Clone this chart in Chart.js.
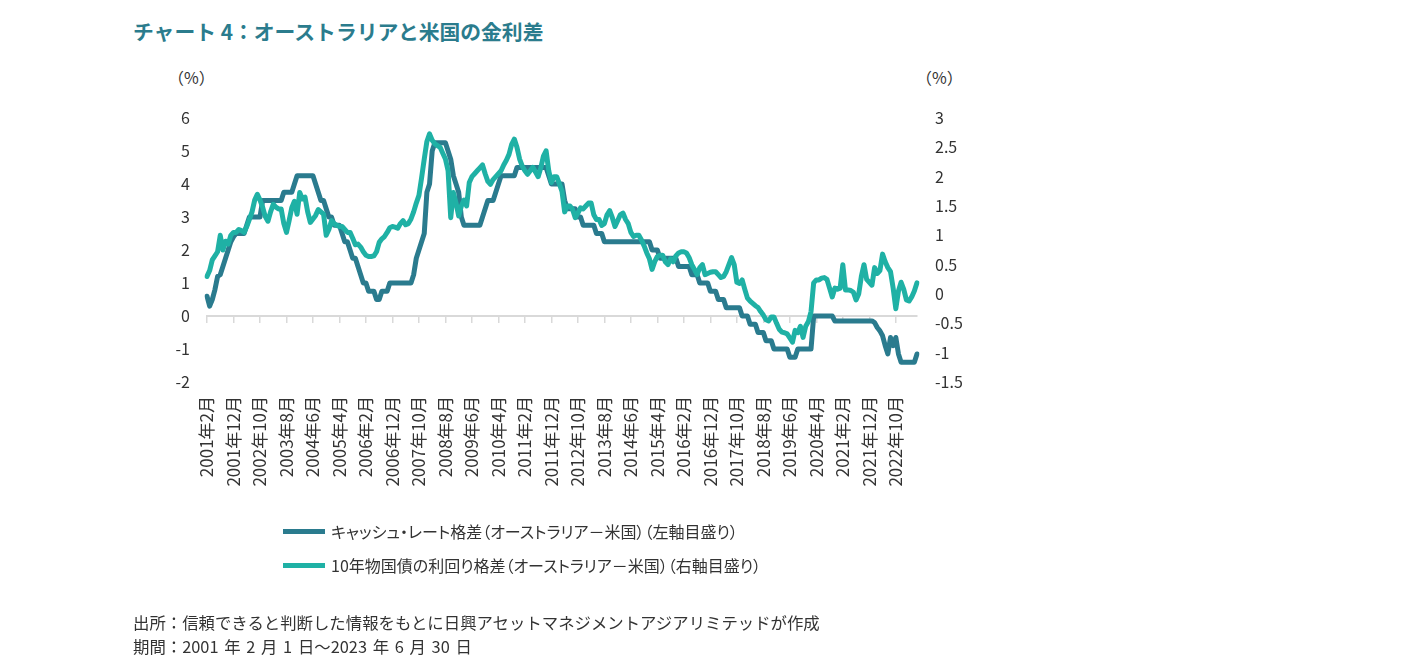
<!DOCTYPE html>
<html lang="ja">
<head>
<meta charset="utf-8">
<script src="https://cdn.jsdelivr.net/npm/chart.js@4.4.0/dist/chart.umd.min.js"></script>
<style>
  html, body { margin: 0; padding: 0; background: #ffffff; }
  body { font-family: "Noto Sans CJK JP", "Noto Sans", sans-serif; color: #333333; }
  #page { position: relative; width: 1402px; height: 672px; overflow: hidden; }
  #chartBox { position: absolute; left: 0; top: 0; width: 1402px; height: 672px; }
  .title { position: absolute; left: 133px; top: 19px; font-size: 20.8px; line-height: 24px; font-weight: bold; color: #2b7c8d; white-space: nowrap; }
  .unit { position: absolute; top: 67px; font-size: 16px; line-height: 20px; color: #333; white-space: nowrap; }
  .legend { position: absolute; left: 283px; font-size: 16px; line-height: 18px; color: #333; white-space: nowrap; display: flex; align-items: center; font-feature-settings: "palt"; }
  .legend .swatch { display: inline-block; width: 42px; height: 5px; margin-right: 6px; }
  .note { position: absolute; left: 133px; font-size: 16.4px; line-height: 20px; color: #333; white-space: nowrap; word-spacing: 2px; }
</style>
</head>
<body>
<div id="page">
  <div class="title">チャート 4：オーストラリアと米国の金利差</div>
  <div class="unit" style="left:168px;">（%）</div>
  <div class="unit" style="left:916px;">（%）</div>
  <div id="chartBox"><canvas id="c"></canvas></div>
  <div class="legend" style="top:522px;"><span class="swatch" style="background:#2a7b8e"></span><span id="lg1"></span></div>
  <div class="legend" style="top:556px;"><span class="swatch" style="background:#1fb1a5"></span><span id="lg2"></span></div>
  <div class="note" style="top:612px;">出所：信頼できると判断した情報をもとに日興アセットマネジメントアジアリミテッドが作成</div>
  <div class="note" style="top:636px;">期間：2001 年 2 月 1 日～2023 年 6 月 30 日</div>
</div>
<script>
// ---- data (monthly, 2001年2月 .. 2023年6月) ----
const startYear = 2001;
const startMonth = 2;

const seriesNames = [
  "キャッシュ・レート格差（オーストラリア－米国）（左軸目盛り）",
  "10年物国債の利回り格差（オーストラリア－米国）（右軸目盛り）"
];

// cash rate spread (left axis, %)
const cashRateSpread = [
  // 2001 Feb-Dec
  0.6, 0.3, 0.5, 0.8, 1.2, 1.25, 1.5, 1.75, 2.0, 2.25, 2.4,
  // 2002
  2.5, 2.5, 2.5, 2.5, 2.75, 3.0, 3.0, 3.0, 3.0, 3.0, 3.5, 3.5,
  // 2003
  3.5, 3.5, 3.5, 3.5, 3.5, 3.5, 3.75, 3.75, 3.75, 3.75, 4.0, 4.25,
  // 2004
  4.25, 4.25, 4.25, 4.25, 4.25, 4.25, 4.0, 3.75, 3.5, 3.5, 3.25, 3.0,
  // 2005
  3.0, 2.75, 2.75, 2.75, 2.5, 2.25, 2.25, 2.0, 1.75, 1.75, 1.5, 1.25,
  // 2006
  1.0, 1.0, 0.75, 0.75, 0.75, 0.5, 0.5, 0.75, 0.75, 0.75, 1.0, 1.0,
  // 2007
  1.0, 1.0, 1.0, 1.0, 1.0, 1.0, 1.0, 1.25, 1.75, 2.0, 2.25, 2.5,
  // 2008
  3.75, 4.0, 5.0, 5.25, 5.25, 5.25, 5.25, 5.25, 5.0, 4.75, 4.25, 4.0,
  // 2009
  3.75, 3.0, 2.75, 2.75, 2.75, 2.75, 2.75, 2.75, 2.75, 3.0, 3.25, 3.5,
  // 2010
  3.5, 3.5, 3.75, 4.0, 4.25, 4.25, 4.25, 4.25, 4.25, 4.25, 4.5, 4.5,
  // 2011
  4.5, 4.5, 4.5, 4.5, 4.5, 4.5, 4.5, 4.5, 4.5, 4.5, 4.25, 4.0,
  // 2012
  4.0, 4.0, 4.0, 4.0, 3.5, 3.25, 3.25, 3.25, 3.25, 3.0, 3.0, 2.75,
  // 2013
  2.75, 2.75, 2.75, 2.75, 2.5, 2.5, 2.5, 2.25, 2.25, 2.25, 2.25, 2.25,
  // 2014
  2.25, 2.25, 2.25, 2.25, 2.25, 2.25, 2.25, 2.25, 2.25, 2.25, 2.25, 2.25,
  // 2015
  2.25, 2.0, 2.0, 2.0, 1.75, 1.75, 1.75, 1.75, 1.75, 1.75, 1.75, 1.5,
  // 2016
  1.5, 1.5, 1.5, 1.5, 1.25, 1.25, 1.25, 1.0, 1.0, 1.0, 1.0, 0.75,
  // 2017
  0.75, 0.75, 0.5, 0.5, 0.5, 0.25, 0.25, 0.25, 0.25, 0.25, 0.25, 0.0,
  // 2018
  0.0, 0.0, -0.25, -0.25, -0.25, -0.5, -0.5, -0.5, -0.75, -0.75, -0.75, -1.0,
  // 2019
  -1.0, -1.0, -1.0, -1.0, -1.0, -1.25, -1.25, -1.25, -1.0, -1.0, -1.0, -1.0,
  // 2020
  -1.0, -1.0, 0.0, 0.0, 0.0, 0.0, 0.0, 0.0, 0.0, 0.0, -0.15, -0.15,
  // 2021
  -0.15, -0.15, -0.15, -0.15, -0.15, -0.15, -0.15, -0.15, -0.15, -0.15, -0.15, -0.15,
  // 2022
  -0.15, -0.2, -0.35, -0.45, -0.6, -0.9, -1.15, -0.65, -0.9, -0.65, -1.15, -1.4,
  // 2023 Jan-Jun
  -1.4, -1.4, -1.4, -1.4, -1.4, -1.15
];

// 10-year government bond yield spread (right axis, %)
const bondYieldSpread = [
  // 2001 Feb-Dec
  0.3, 0.4, 0.58, 0.65, 0.72, 1.0, 0.75, 0.9, 0.85, 1.0, 1.05,
  // 2002
  1.05, 1.1, 1.08, 1.05, 1.15, 1.27, 1.4, 1.6, 1.7, 1.6, 1.48, 1.32,
  // 2003
  1.24, 1.4, 1.53, 1.48, 1.45, 1.45, 1.2, 1.05, 1.25, 1.47, 1.58, 1.36,
  // 2004
  1.73, 1.62, 1.65, 1.4, 1.22, 1.28, 1.34, 1.44, 1.4, 1.36, 1.0, 1.1,
  // 2005
  1.25, 1.2, 1.17, 1.15, 1.15, 1.1, 1.05, 1.05, 0.95, 0.84, 0.85, 0.8,
  // 2006
  0.72, 0.66, 0.64, 0.64, 0.65, 0.72, 0.88, 0.94, 0.98, 1.05, 1.13, 1.15,
  // 2007
  1.14, 1.12, 1.2, 1.25, 1.18, 1.2, 1.28, 1.4, 1.55, 1.68, 1.98, 2.3,
  // 2008
  2.6, 2.73, 2.62, 2.56, 2.53, 2.5, 2.4, 2.3, 2.1, 1.3, 1.73, 1.55,
  // 2009
  1.33, 1.5, 1.6, 1.5, 1.9, 2.0, 2.05, 2.1, 2.15, 2.2, 2.05, 1.92,
  // 2010
  1.87, 1.95, 2.0, 2.05, 2.1, 2.2, 2.28, 2.38, 2.55, 2.64, 2.5, 2.3,
  // 2011
  2.18, 2.1, 2.04, 2.1, 2.16, 2.08, 2.0, 2.15, 2.35, 2.44, 2.1, 1.9,
  // 2012
  2.0, 2.0, 1.88, 1.75, 1.4, 1.5, 1.5, 1.44, 1.3, 1.38, 1.47, 1.45,
  // 2013
  1.5, 1.55, 1.55, 1.35, 1.27, 1.27, 1.17, 1.2, 1.35, 1.42, 1.3, 1.15,
  // 2014
  1.25, 1.35, 1.38, 1.27, 1.2, 1.05, 0.98, 1.0, 1.0, 0.92, 0.82, 0.7,
  // 2015
  0.6, 0.42, 0.55, 0.64, 0.66, 0.66, 0.55, 0.5, 0.6, 0.55, 0.65, 0.7,
  // 2016
  0.72, 0.72, 0.7, 0.62, 0.5, 0.42, 0.33, 0.45, 0.5, 0.33, 0.35, 0.37,
  // 2017
  0.38, 0.38, 0.33, 0.28, 0.3, 0.38, 0.5, 0.62, 0.5, 0.2, 0.18, 0.24,
  // 2018
  0.08, -0.07, -0.12, -0.16, -0.2, -0.23, -0.3, -0.36, -0.44, -0.46, -0.39, -0.39,
  // 2019
  -0.5, -0.6, -0.65, -0.66, -0.68, -0.75, -0.82, -0.62, -0.66, -0.55, -0.74, -0.55,
  // 2020
  -0.47, -0.3, 0.19, 0.24, 0.24, 0.27, 0.28, 0.25, 0.1, -0.05, 0.1, 0.08,
  // 2021
  0.1, 0.5, 0.07, 0.07, 0.06, 0.03, -0.1, 0.0, 0.3, 0.5, 0.25, 0.2,
  // 2022
  0.15, 0.45, 0.35, 0.4, 0.68, 0.55, 0.45, 0.38, 0.1, -0.25, 0.05, 0.2,
  // 2023 Jan-Jun
  0.08, -0.1, -0.12, -0.05, 0.05, 0.19
];

// axis ranges / ticks
const leftAxis = { min: -2, max: 6, step: 1 };
const rightAxis = { min: -1.5, max: 3, step: 0.5 };
const labelEvery = 10; // a tick label every 10 months

// ---- build ----
const categories = cashRateSpread.map((_, i) => {
  const t = (startMonth - 1) + i;
  return (startYear + Math.floor(t / 12)) + "年" + ((t % 12) + 1) + "月";
});

document.getElementById("lg1").textContent = seriesNames[0];
document.getElementById("lg2").textContent = seriesNames[1];

const COL_CASH = "#2a7b8e";
const COL_BOND = "#1fb1a5";
const FONT = '"Noto Sans CJK JP", "Noto Sans", sans-serif';
Chart.defaults.font.family = FONT;
Chart.defaults.color = "#333333";

const keepEvery = (scale) => { scale.ticks = scale.ticks.filter(t => t.value % labelEvery === 0); };

new Chart(document.getElementById("c"), {
  type: "line",
  data: {
    labels: categories,
    datasets: [
      { label: seriesNames[0], data: cashRateSpread, yAxisID: "y", borderColor: COL_CASH, backgroundColor: COL_CASH,
        borderWidth: 5, pointRadius: 0, tension: 0, order: 1, borderJoinStyle: "round", borderCapStyle: "round" },
      { label: seriesNames[1], data: bondYieldSpread, yAxisID: "y2", borderColor: COL_BOND, backgroundColor: COL_BOND,
        borderWidth: 5, pointRadius: 0, tension: 0, order: 0, borderJoinStyle: "round", borderCapStyle: "round" }
    ]
  },
  options: {
    responsive: true,
    maintainAspectRatio: false,
    animation: false,
    layout: { padding: { left: 150, right: 425, top: 118, bottom: 150 } },
    plugins: { legend: { display: false }, tooltip: { enabled: false } },
    scales: {
      x: {
        type: "category",
        position: "bottom",
        grid: { display: false },
        border: { display: false },
        afterBuildTicks: keepEvery,
        afterFit: (s) => { s.height = 140; },
        ticks: { autoSkip: false, minRotation: 90, maxRotation: 90, padding: 6,
                 font: { size: 17 }, color: "#333333" }
      },
      x2: {
        type: "category",
        position: { y: 0 },
        afterBuildTicks: keepEvery,
        grid: { display: true, drawOnChartArea: false, drawTicks: true, tickLength: 6, color: "#d9d9d9", lineWidth: 1.5 },
        border: { display: true, color: "#d9d9d9", width: 2 },
        ticks: { display: false }
      },
      y: {
        position: "left",
        min: leftAxis.min, max: leftAxis.max,
        grid: { display: false },
        border: { display: false },
        afterFit: (s) => { s.width = 57; },
        ticks: { stepSize: leftAxis.step, padding: 9, font: { size: 16 }, color: "#333333",
                 callback: (v) => String(v) }
      },
      y2: {
        position: "right",
        min: rightAxis.min, max: rightAxis.max,
        grid: { display: false },
        border: { display: false },
        afterFit: (s) => { s.width = 60; },
        ticks: { stepSize: rightAxis.step, padding: 10, font: { size: 16 }, color: "#333333",
                 callback: (v) => String(v) }
      }
    }
  }
});
</script>
</body>
</html>
